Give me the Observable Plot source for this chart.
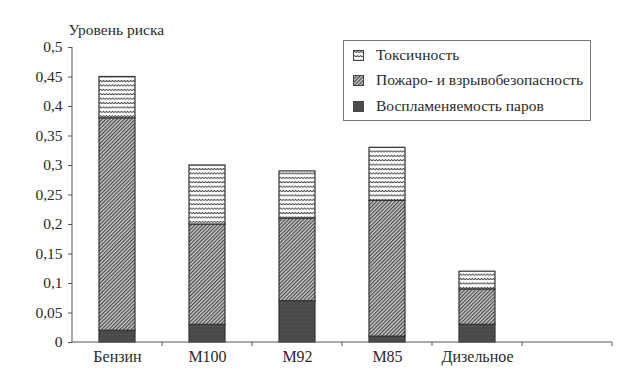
<!DOCTYPE html>
<html><head><meta charset="utf-8">
<script src="https://cdn.jsdelivr.net/npm/d3@7"></script>
<script src="https://cdn.jsdelivr.net/npm/@observablehq/plot@0.6"></script>
<style>
body{margin:0;background:#fff;}
#wrap{position:relative;width:641px;height:375px;color:#2a2a2a;}
#legend{position:absolute;left:343px;top:40px;width:246px;height:79px;border:1px solid #777;background:#fff;box-sizing:content-box;}
.row{position:absolute;left:9px;display:flex;align-items:center;line-height:16px;white-space:nowrap;}
.sw{margin-right:12px;display:block;}
</style></head><body><div id="wrap"></div>
<script>
const categories = ["Бензин", "M100", "M92", "M85", "Дизельное"];
const seriesNames = ["Воспламеняемость паров", "Пожаро- и взрывобезопасность", "Токсичность"];
const vapour   = [0.02, 0.03, 0.07, 0.01, 0.03];
const fire     = [0.36, 0.17, 0.14, 0.23, 0.06];
const toxicity = [0.07, 0.10, 0.08, 0.09, 0.03];
const yTicks = [0, 0.05, 0.1, 0.15, 0.2, 0.25, 0.3, 0.35, 0.4, 0.45, 0.5];
const yLabel = "Уровень риска";
const legendOrder = ["Токсичность", "Пожаро- и взрывобезопасность", "Воспламеняемость паров"];

const FONT = "'Liberation Serif', serif";
document.body.style.fontFamily = FONT;

const fills = ["url(#pVap)", "url(#pFire)", "url(#pTox)"];
const seriesValues = [vapour, fire, toxicity];
const data = [];
seriesNames.forEach((s, si) => categories.forEach((c, ci) => data.push({cat: c, series: s, value: seriesValues[si][ci]})));

const fmt = d => String(d).replace(".", ",");

const plot = Plot.plot({
  width: 641, height: 375,
  marginLeft: 72, marginRight: 29, marginTop: 47, marginBottom: 33,
  style: {fontSize: "15px", color: "#2a2a2a", background: "#fff"},
  x: {domain: [...categories, " "], paddingInner: 0.6, paddingOuter: 0.3, label: null},
  y: {domain: [0, 0.5], label: null},
  color: {domain: seriesNames, range: fills},
  marks: [
    Plot.axisY({ticks: yTicks, tickFormat: fmt, tickSize: 4, tickPadding: 6, stroke: "#555", fontSize: 15.5}),
    Plot.axisX({tickSize: 0, tickPadding: 8, fontSize: 16}),
    Plot.barY(data, {x: "cat", y: "value", fill: "series", stroke: "#333", strokeWidth: 1.2}),
    Plot.text([yLabel], {frameAnchor: "top-left", dx: -4, dy: -17, textAnchor: "start", lineAnchor: "middle", fontSize: 15.5, fill: "#2a2a2a"})
  ]
});

const svg = d3.select(plot);
svg.style("font-family", FONT);
svg.selectAll("text").style("font-family", FONT);

const defs = svg.insert("defs", ":first-child");
const pv = defs.append("pattern").attr("id", "pVap").attr("patternUnits", "userSpaceOnUse").attr("width", 4).attr("height", 4);
pv.append("rect").attr("width", 4).attr("height", 4).attr("fill", "#4a4a4a");
pv.append("rect").attr("x", 1).attr("y", 2).attr("width", 1).attr("height", 1).attr("fill", "#626262");
const pf = defs.append("pattern").attr("id", "pFire").attr("patternUnits", "userSpaceOnUse").attr("width", 2.6).attr("height", 2.6).attr("patternTransform", "rotate(45)");
pf.append("rect").attr("width", 2.6).attr("height", 2.6).attr("fill", "#cfcfcf");
pf.append("line").attr("x1", 0.6).attr("x2", 0.6).attr("y1", 0).attr("y2", 2.6).attr("stroke", "#3a3a3a").attr("stroke-width", 1.1);
const pt = defs.append("pattern").attr("id", "pTox").attr("patternUnits", "userSpaceOnUse").attr("width", 3).attr("height", 4.4);
pt.append("rect").attr("width", 3).attr("height", 4.4).attr("fill", "#fff");
pt.append("path").attr("d", "M0,2.6 L1.5,1.2 L3,2.6").attr("fill", "none").attr("stroke", "#333").attr("stroke-width", 0.9);

// axis lines and band-boundary ticks from the plot's own scales
const xs = plot.scale("x"), ys = plot.scale("y");
const y0 = ys.apply(0), yTop = ys.apply(0.5);
const xLeft = xs.range[0], xRight = xs.range[1];
const g = svg.append("g").attr("stroke", "#555").attr("stroke-width", 1);
g.append("line").attr("x1", xLeft).attr("x2", xLeft).attr("y1", yTop).attr("y2", y0);
g.append("line").attr("x1", xLeft).attr("x2", xRight).attr("y1", y0).attr("y2", y0);
const gap = xs.step - xs.bandwidth;
xs.domain.forEach(c => {
  const bx = xs.apply(c) + xs.bandwidth + gap / 2;
  g.append("line").attr("x1", bx).attr("x2", bx).attr("y1", y0).attr("y2", y0 + 4);
});

const wrap = document.getElementById("wrap");
wrap.appendChild(plot);

const legend = document.createElement("div");
legend.id = "legend";
legend.style.fontFamily = FONT;
legend.style.fontSize = "15.5px";
const swFill = {"Токсичность": "url(#pTox)", "Пожаро- и взрывобезопасность": "url(#pFire)", "Воспламеняемость паров": "url(#pVap)"};
const rowTops = [6, 31, 57];
legendOrder.forEach((name, i) => {
  const row = document.createElement("div");
  row.className = "row";
  row.style.top = rowTops[i] + "px";
  row.innerHTML = `<svg class="sw" width="11" height="11"><rect x="0.5" y="0.5" width="10" height="10" fill="${swFill[name]}" stroke="#444" stroke-width="1"/></svg><span>${name}</span>`;
  legend.appendChild(row);
});
wrap.appendChild(legend);
</script>
</body></html>
